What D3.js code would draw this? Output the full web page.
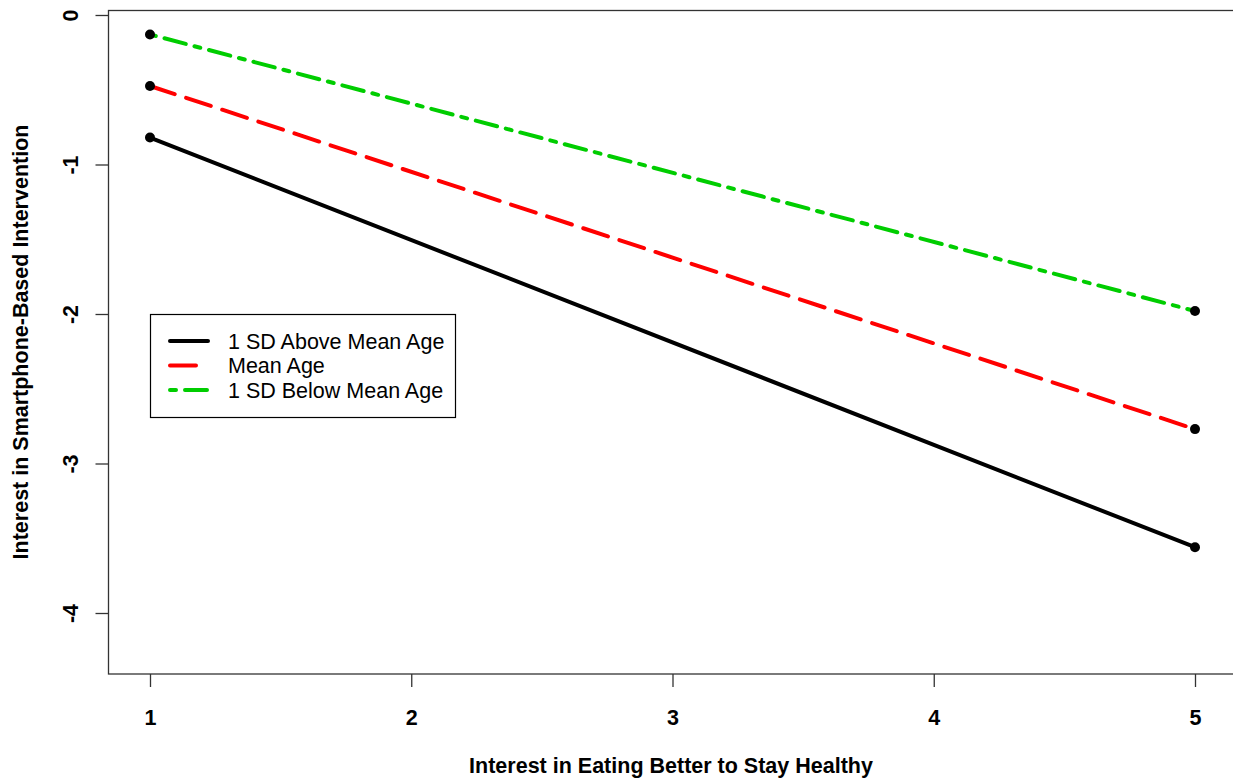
<!DOCTYPE html>
<html><head><meta charset="utf-8">
<script src="https://cdn.jsdelivr.net/npm/d3@7"></script>
<style>body{margin:0;background:#fff;} svg{display:block;}</style>
</head><body>
<svg id="chart" width="1233" height="780"></svg>
<script>
const xValues = [1, 5];
const seriesNames = ["1 SD Above Mean Age", "Mean Age", "1 SD Below Mean Age"];
const seriesAbove = [-0.82, -3.56];
const seriesMean = [-0.475, -2.77];
const seriesBelow = [-0.13, -1.98];
const xTicks = [1, 2, 3, 4, 5];
const yTicks = [0, -1, -2, -3, -4];
const xTitle = "Interest in Eating Better to Stay Healthy";
const yTitle = "Interest in Smartphone-Based Intervention";

const colors = ["#000000", "#ff0000", "#00cd00"];
const dashes = [null, "26,12", "6,9,22,9"];
const allSeries = [seriesAbove, seriesMean, seriesBelow];

const svg = d3.select("#chart");
const x = d3.scaleLinear().domain([0.84, 5.16]).range([108.2, 1236.8]);
const y = d3.scaleLinear().domain([-4.408, 0.0334]).range([674, 10]);
const font = "Liberation Sans, Arial, sans-serif";
const fs = 21.5;

// box
svg.append("rect").attr("x", 108.5).attr("y", 10.5).attr("width", 1140).attr("height", 674 - 10.5)
  .attr("fill", "none").attr("stroke", "#333").attr("stroke-width", 1.3);

// axes
const xAxis = svg.append("g").attr("transform", "translate(0,674)")
  .call(d3.axisBottom(x).tickValues(xTicks).tickSize(13).tickPadding(23).tickFormat(d => String(d)));
xAxis.select(".domain").remove();
xAxis.selectAll("line").attr("stroke", "#333").attr("stroke-width", 1.3);
xAxis.selectAll("text").attr("font-family", font).attr("font-size", fs).attr("font-weight", "bold").attr("fill", "#000");

const yAxis = svg.append("g").attr("transform", "translate(108.5,0)")
  .call(d3.axisLeft(y).tickValues(yTicks).tickSize(13).tickFormat(d => String(d)));
yAxis.select(".domain").remove();
yAxis.selectAll("line").attr("stroke", "#333").attr("stroke-width", 1.3);
yAxis.selectAll("text").remove();
yAxis.selectAll(".tick").append("text")
  .attr("transform", "translate(-38,0) rotate(-90)")
  .attr("text-anchor", "middle").attr("dy", "0.35em")
  .attr("font-family", font).attr("font-size", fs).attr("font-weight", "bold").attr("fill", "#000")
  .text(d => String(d));

// titles
svg.append("text").attr("x", 671).attr("y", 773).attr("text-anchor", "middle")
  .attr("font-family", font).attr("font-size", fs).attr("font-weight", "bold").text(xTitle);
svg.append("text").attr("transform", "translate(28,342) rotate(-90)").attr("text-anchor", "middle")
  .attr("font-family", font).attr("font-size", fs).attr("font-weight", "bold").text(yTitle);

// lines
const line = d3.line().x((d, i) => x(xValues[i])).y(d => y(d));
allSeries.forEach((s, k) => {
  svg.append("path").datum(s).attr("d", line).attr("fill", "none")
    .attr("stroke", colors[k]).attr("stroke-width", 4).attr("stroke-linecap", "round")
    .attr("stroke-dasharray", dashes[k]);
});
allSeries.forEach(s => {
  svg.selectAll(null).data(s).enter().append("circle")
    .attr("cx", (d, i) => x(xValues[i])).attr("cy", d => y(d)).attr("r", 5).attr("fill", "#000");
});

// legend
const lg = svg.append("g");
lg.append("rect").attr("x", 150.5).attr("y", 314.5).attr("width", 305).attr("height", 103)
  .attr("fill", "#fff").attr("stroke", "#000").attr("stroke-width", 1.2);
seriesNames.forEach((n, k) => {
  const yy = 341 + k * 24.5;
  lg.append("line").attr("x1", 170).attr("x2", 208).attr("y1", yy).attr("y2", yy)
    .attr("stroke", colors[k]).attr("stroke-width", 4).attr("stroke-linecap", "round")
    .attr("stroke-dasharray", dashes[k]);
  lg.append("text").attr("x", 228).attr("y", yy).attr("dy", "0.35em")
    .attr("font-family", font).attr("font-size", fs).text(n);
});
</script>
</body></html>
